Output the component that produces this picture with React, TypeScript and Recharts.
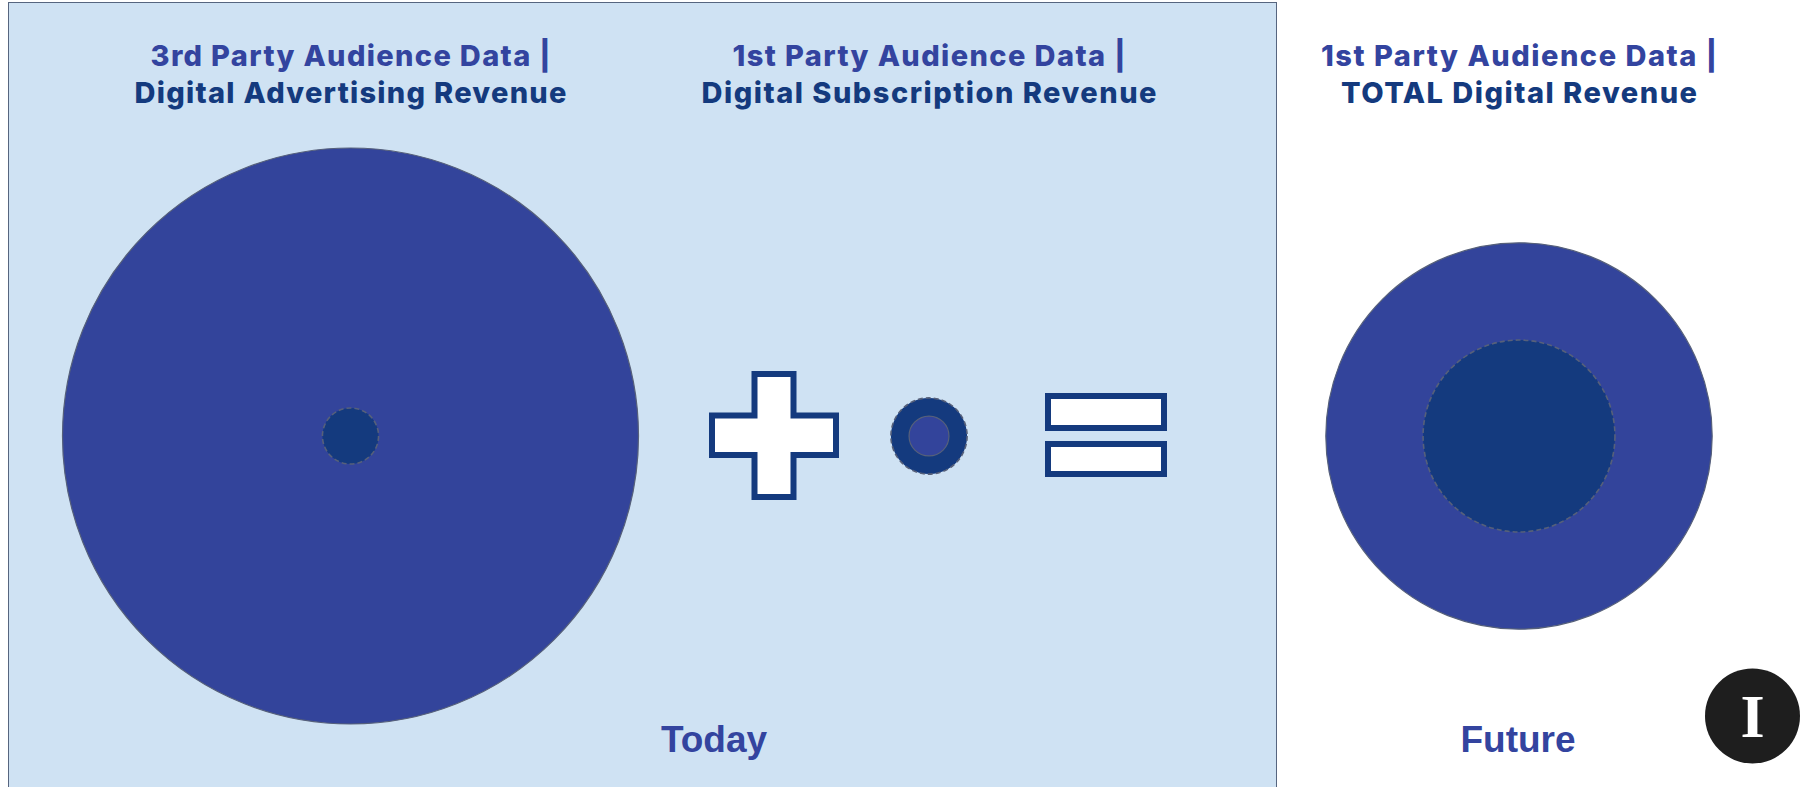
import React from 'react'
import { PieChart, Pie, Cell } from 'recharts'

// column headings (two lines each)
const titleTop = ['3rd Party Audience Data |', '1st Party Audience Data |', '1st Party Audience Data |']
const titleBottom = ['Digital Advertising Revenue', 'Digital Subscription Revenue', 'TOTAL Digital Revenue']

// relative circle areas (largest = 100)
const outerValues = [100, 1.75, 45]
const innerValues = [0.95, 0.48, 11.1]

const periodLabels = ['Today', 'Future']

const W = 1808
const H = 787
const MAX_R = 288
const CY = 436
const colX = [350.5, 929, 1519]
const periodX = [714, 1518]

// measured widths of the heading lines (the original font runs wider than Inter)
const topWidth = [400, 393, 396]
const bottomWidth = [432, 455, 356]

const LIGHT = '#33449b'
const DARK = '#143a7e'
const EDGE = '#56607a'

// which fill sits on the outside / inside of each column's circle
const outerFill = [LIGHT, DARK, LIGHT]
const innerFill = [DARK, LIGHT, DARK]
const outerDashed = [false, true, false]
const innerDashed = [true, false, true]

const radius = (v: number) => MAX_R * Math.sqrt(v / 100)

const edge = (cx: number, r: number, dashed: boolean) => () => (
  <circle
    cx={cx}
    cy={CY}
    r={r}
    fill="none"
    stroke={EDGE}
    strokeWidth={dashed ? 1.6 : 1.2}
    strokeDasharray={dashed ? '5 3' : undefined}
  />
)

export default function App() {
  return (
    <div style={{ position: 'absolute', left: 0, top: 0, width: W, height: H, background: '#fff', overflow: 'hidden' }}>
      <div
        style={{
          position: 'absolute',
          left: 8,
          top: 2,
          width: 1269,
          height: 810,
          background: '#cfe2f3',
          border: '1.5px solid #56657f',
          boxSizing: 'border-box',
        }}
      />
      <div style={{ position: 'absolute', left: 0, top: 0 }}>
        <PieChart width={W} height={H} margin={{ top: 0, right: 0, bottom: 0, left: 0 }}>
          {outerValues.map((v, i) => (
            <Pie
              key={'o' + i}
              data={[{ name: titleBottom[i], value: v }]}
              dataKey="value"
              cx={colX[i]}
              cy={CY}
              innerRadius={0}
              outerRadius={radius(v)}
              startAngle={90}
              endAngle={-270}
              stroke="none"
              label={edge(colX[i], radius(v), outerDashed[i])}
              labelLine={false}
              isAnimationActive={false}
            >
              <Cell fill={outerFill[i]} />
            </Pie>
          ))}
          {innerValues.map((v, i) => (
            <Pie
              key={'n' + i}
              data={[{ name: titleTop[i], value: v }]}
              dataKey="value"
              cx={colX[i]}
              cy={CY}
              innerRadius={0}
              outerRadius={radius(v)}
              startAngle={90}
              endAngle={-270}
              stroke="none"
              label={edge(colX[i], radius(v), innerDashed[i])}
              labelLine={false}
              isAnimationActive={false}
            >
              <Cell fill={innerFill[i]} />
            </Pie>
          ))}

          {/* plus sign */}
          <path
            d="M754.5,374 H793.5 V415.5 H836 V455 H793.5 V497 H754.5 V455 H712 V415.5 H754.5 Z"
            fill="#fff"
            stroke={DARK}
            strokeWidth={6}
          />
          {/* equals sign */}
          <rect x={1048} y={396} width={116} height={32} fill="#fff" stroke={DARK} strokeWidth={6} />
          <rect x={1048} y={444} width={116} height={30} fill="#fff" stroke={DARK} strokeWidth={6} />

          {titleTop.map((t, i) => (
            <g key={'t' + i} fontFamily="Inter" fontWeight={800} fontSize={29} textAnchor="middle">
              <text x={colX[i]} y={66} fill="#33449f" textLength={topWidth[i]} lengthAdjust="spacing">
                {t}
              </text>
              <text x={colX[i]} y={102.5} fill={DARK} textLength={bottomWidth[i]} lengthAdjust="spacing">
                {titleBottom[i]}
              </text>
            </g>
          ))}

          {periodLabels.map((p, i) => (
            <text
              key={p}
              x={periodX[i]}
              y={752}
              textAnchor="middle"
              fontFamily="Liberation Sans"
              fontWeight={700}
              fontSize={37}
              fill="#33449f"
            >
              {p}
            </text>
          ))}

          {/* logo */}
          <circle cx={1752.5} cy={716} r={47.5} fill="#1e1e1e" />
          <text
            x={1752.5}
            y={737}
            textAnchor="middle"
            fontFamily="Liberation Serif"
            fontWeight={700}
            fontSize={62}
            fill="#fff"
          >
            I
          </text>
        </PieChart>
      </div>
    </div>
  )
}
